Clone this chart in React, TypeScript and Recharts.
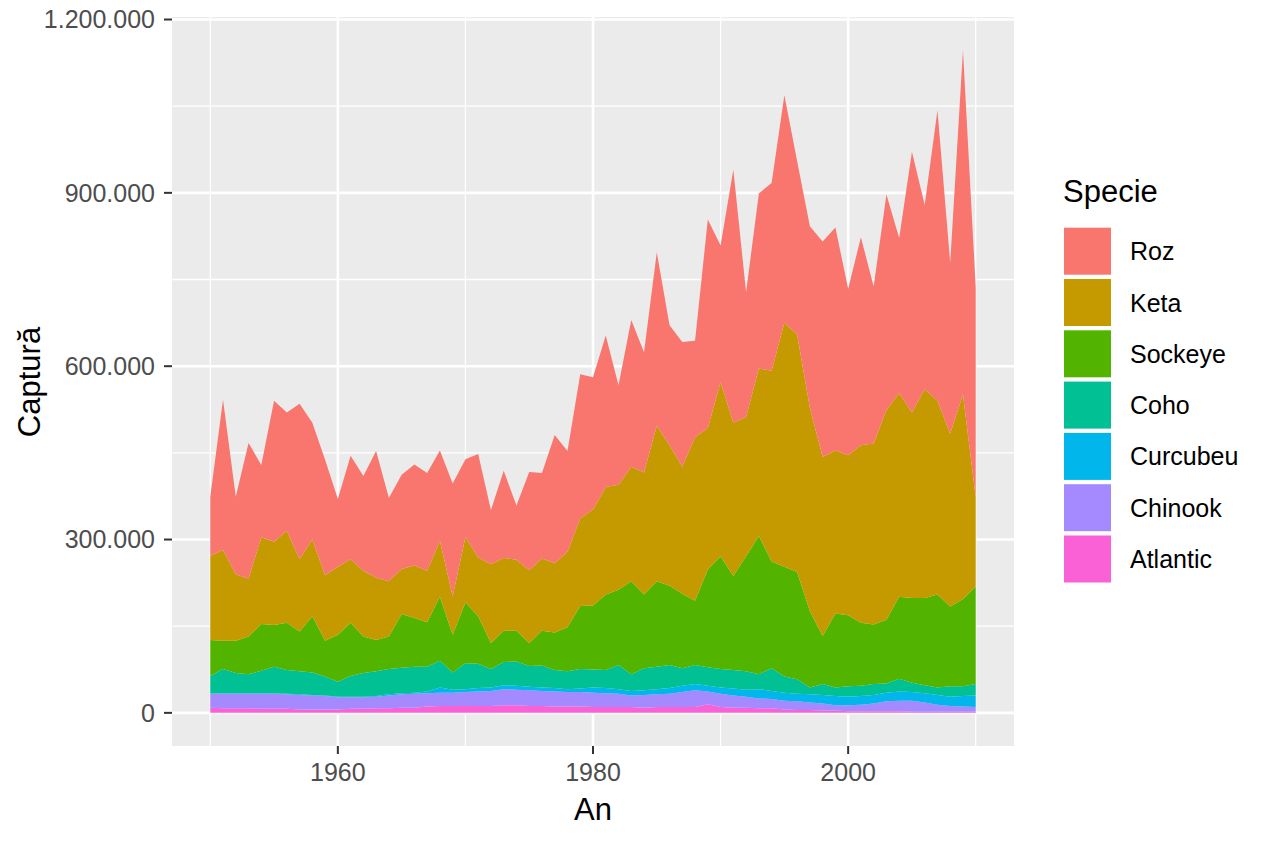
import { Area, AreaChart, CartesianGrid, Label, XAxis, YAxis } from "recharts";

// salmon catch per species, thousands of fish
const years = [
  1950, 1951, 1952, 1953, 1954, 1955, 1956, 1957, 1958, 1959,
  1960, 1961, 1962, 1963, 1964, 1965, 1966, 1967, 1968, 1969,
  1970, 1971, 1972, 1973, 1974, 1975, 1976, 1977, 1978, 1979,
  1980, 1981, 1982, 1983, 1984, 1985, 1986, 1987, 1988, 1989,
  1990, 1991, 1992, 1993, 1994, 1995, 1996, 1997, 1998, 1999,
  2000, 2001, 2002, 2003, 2004, 2005, 2006, 2007, 2008, 2009,
  2010,
];

const atlantic = [
  9, 8, 8, 8, 7, 7, 7, 6, 6, 6,
  6, 7, 7, 8, 8, 9, 9, 11, 12, 12,
  12, 12, 12, 13, 13, 12, 12, 11, 11, 11,
  10, 10, 10, 10, 9, 10, 10, 10, 10, 15,
  10, 9, 9, 8, 8, 6, 5, 5, 4, 4,
  3, 3, 3, 3, 3, 2, 2, 2, 2, 2,
  2,
];

const chinook = [
  24, 25, 25, 25, 26, 26, 25, 25, 24, 23,
  21, 20, 20, 20, 22, 23, 24, 23, 23, 23,
  24, 25, 26, 28, 27, 27, 26, 26, 25, 25,
  25, 24, 23, 20, 22, 22, 23, 26, 29, 22,
  23, 21, 19, 17, 16, 15, 15, 13, 12, 9,
  10, 11, 13, 17, 18, 19, 16, 12, 10, 9,
  8,
];

const curcubeu = [
  1, 1, 1, 1, 1, 1, 1, 1, 1, 1,
  1, 1, 1, 1, 2, 2, 2, 3, 9, 5,
  5, 6, 6, 7, 7, 6, 6, 6, 5, 6,
  9, 9, 8, 8, 8, 9, 10, 11, 11, 10,
  11, 12, 12, 16, 14, 14, 13, 14, 15, 16,
  15, 15, 15, 15, 16, 15, 16, 17, 16, 18,
  20,
];

const coho = [
  30, 42, 35, 33, 39, 46, 41, 40, 39, 33,
  26, 36, 41, 43, 44, 44, 45, 43, 46, 30,
  45, 42, 32, 40, 42, 36, 38, 31, 31, 34,
  31, 31, 42, 29, 38, 39, 40, 30, 33, 32,
  32, 32, 32, 26, 39, 28, 25, 12, 19, 15,
  18, 18, 19, 16, 22, 16, 14, 13, 18, 17,
  20,
];

const sockeye = [
  62, 49, 56, 65, 81, 72, 82, 69, 97, 62,
  81, 92, 63, 54, 56, 93, 84, 77, 111, 65,
  105, 82, 45, 54, 53, 40, 60, 65, 76, 109,
  111, 131, 130, 161, 128, 148, 137, 129, 111, 169,
  195, 163, 199, 239, 185, 190, 186, 132, 83, 128,
  123, 109, 103, 110, 142, 147, 151, 161, 138, 151,
  169,
];

const keta = [
  146, 157, 115, 100, 150, 144, 159, 125, 133, 113,
  118, 110, 114, 108, 96, 78, 91, 89, 97, 67,
  113, 102, 136, 126, 123, 126, 125, 120, 131, 152,
  166, 186, 182, 198, 211, 269, 243, 220, 283, 245,
  301, 265, 241, 290, 330, 422, 411, 352, 310, 282,
  277, 307, 313, 363, 352, 321, 361, 335, 299, 354,
  154,
];

const roz = [
  102, 260, 134, 235, 125, 244, 205, 269, 202, 200,
  117, 179, 164, 219, 144, 163, 175, 169, 156, 195,
  135, 179, 94, 151, 94, 170, 148, 222, 174, 249,
  229, 262, 172, 254, 208, 300, 208, 216, 167, 361,
  237, 438, 216, 303, 325, 394, 300, 314, 373, 386,
  288, 360, 272, 373, 269, 451, 319, 503, 296, 596,
  363,
];

const yTicks = [0, 300000, 600000, 900000, 1200000];
const yMinor = [150000, 450000, 750000, 1050000];
const xTicks = [1960, 1980, 2000];
const xMinor = [1950, 1970, 1990, 2010];

// bottom of the stack first
const species = [
  { key: "Atlantic", values: atlantic, color: "#FB61D7" },
  { key: "Chinook", values: chinook, color: "#A58AFF" },
  { key: "Curcubeu", values: curcubeu, color: "#00B6EB" },
  { key: "Coho", values: coho, color: "#00C094" },
  { key: "Sockeye", values: sockeye, color: "#53B400" },
  { key: "Keta", values: keta, color: "#C49A00" },
  { key: "Roz", values: roz, color: "#F8766D" },
];

const data = years.map((year, i) => {
  const row: Record<string, number> = { year };
  species.forEach((s) => {
    row[s.key] = s.values[i] * 1000;
  });
  return row;
});

const FONT = '"Liberation Sans", Arial, Helvetica, sans-serif';

const fmt = (v: number) =>
  String(v).replace(/\B(?=(\d{3})+(?!\d))/g, ".");

function SpeciesLegend() {
  const items = [...species].reverse();
  return (
    <svg
      width={210}
      height={420}
      style={{ position: "absolute", left: 1054, top: 170, fontFamily: FONT }}
    >
      <text x={9} y={31.7} fontSize={31} fill="#000">
        Specie
      </text>
      {items.map((s, i) => {
        const top = 57.7 + i * 51.3;
        return (
          <g key={s.key}>
            <rect x={10} y={top} width={47} height={47} fill={s.color} />
            <text x={76} y={top + 23.5 + 9} fontSize={25} fill="#000">
              {s.key}
            </text>
          </g>
        );
      })}
    </svg>
  );
}

export default function App() {
  return (
    <div
      style={{
        position: "absolute",
        left: 0,
        top: 0,
        width: 1264,
        height: 843,
        background: "#fff",
        fontFamily: FONT,
      }}
    >
      <AreaChart
        width={1264}
        height={843}
        data={data}
        margin={{ top: 17, right: 250, bottom: 0, left: 0 }}
      >
        <CartesianGrid
          fill="#EBEBEB"
          stroke="#FFFFFF"
          strokeWidth={1.3}
          horizontalValues={yMinor}
          verticalValues={xMinor}
        />
        <CartesianGrid
          stroke="#FFFFFF"
          strokeWidth={2.6}
          horizontalValues={yTicks}
          verticalValues={xTicks}
        />
        <XAxis
          dataKey="year"
          type="number"
          domain={[1947, 2013]}
          allowDataOverflow
          ticks={xTicks}
          height={97}
          axisLine={false}
          tickLine={{ stroke: "#333333", strokeWidth: 2 }}
          tickSize={8}
          tickMargin={9}
          tick={{ fill: "#4D4D4D", fontSize: 25, fontFamily: FONT }}
        >
          <Label
            content={() => (
              <text
                x={593}
                y={820}
                textAnchor="middle"
                fontSize={31}
                fontFamily={FONT}
                fill="#000"
              >
                An
              </text>
            )}
          />
        </XAxis>
        <YAxis
          type="number"
          domain={[-57350, 1204350]}
          allowDataOverflow
          ticks={yTicks}
          width={172}
          axisLine={false}
          tickLine={{ stroke: "#333333", strokeWidth: 2 }}
          tickSize={8}
          tickMargin={9}
          tickFormatter={fmt}
          tick={{ fill: "#4D4D4D", fontSize: 25, fontFamily: FONT }}
        >
          <Label
            content={() => (
              <text
                x={39.5}
                y={382}
                transform="rotate(-90 39.5 382)"
                textAnchor="middle"
                fontSize={31}
                fontFamily={FONT}
                fill="#000"
              >
                Captură
              </text>
            )}
          />
        </YAxis>
        {species.map((s) => (
          <Area
            key={s.key}
            type="linear"
            dataKey={s.key}
            stackId="1"
            stroke="none"
            fill={s.color}
            fillOpacity={1}
            dot={false}
            activeDot={false}
            isAnimationActive={false}
          />
        ))}
      </AreaChart>
      <SpeciesLegend />
    </div>
  );
}
